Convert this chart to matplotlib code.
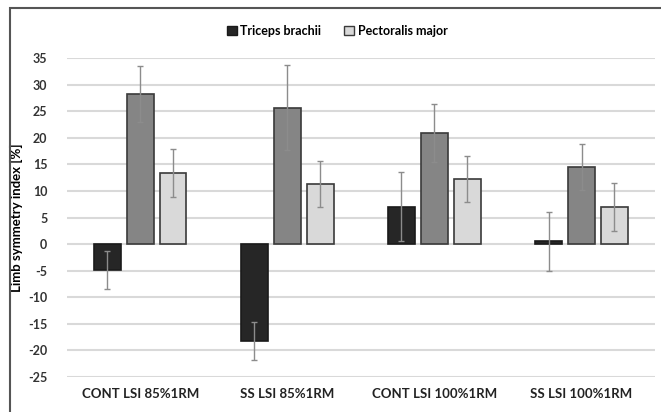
import matplotlib.pyplot as plt
import matplotlib.patches as mpatches
import numpy as np

categories = ['CONT LSI 85%1RM', 'SS LSI 85%1RM', 'CONT LSI 100%1RM', 'SS LSI 100%1RM']
triceps = [-4.9, -18.2, 7.0, 0.5]
triceps_err = [3.6, 3.6, 6.5, 5.5]
middle = [28.3, 25.7, 20.9, 14.5]
middle_err = [5.3, 8.0, 5.4, 4.4]
pectoralis = [13.4, 11.3, 12.3, 7.0]
pectoralis_err = [4.5, 4.3, 4.3, 4.5]
yticks = list(range(-25, 40, 5))

plt.rcParams['font.family'] = ['Lato', 'DejaVu Sans']

fig = plt.figure(figsize=(6.61, 4.12), dpi=100)
ax = fig.add_axes([0.101, 0.085, 0.89, 0.774])

x = np.arange(len(categories))
w = 0.18
step = 0.224
err_kw = dict(ecolor='#8c8c8c', elinewidth=1.0, capsize=2.5, capthick=1.0)

ax.bar(x - step, triceps, w, yerr=triceps_err, color='#262626', edgecolor='#1a1a1a',
       linewidth=1.2, error_kw=err_kw, zorder=3)
ax.bar(x, middle, w, yerr=middle_err, color='#858585', edgecolor='#3a3a3a',
       linewidth=1.2, error_kw=err_kw, zorder=3)
ax.bar(x + step, pectoralis, w, yerr=pectoralis_err, color='#d9d9d9', edgecolor='#3a3a3a',
       linewidth=1.2, error_kw=err_kw, zorder=3)

ax.set_xlim(-0.5, len(categories) - 0.5)
ax.set_ylim(-25, 35)
ax.set_yticks(yticks)
ax.set_yticklabels([str(t) for t in yticks], fontsize=9, color='#333333', fontweight='bold')
ax.set_xticks(x)
ax.set_xticklabels(categories, fontsize=9.5, fontweight='bold', color='#222222')
ax.tick_params(axis='both', length=0)
ax.tick_params(axis='x', pad=8)
ax.tick_params(axis='y', pad=14)
ax.grid(axis='y', color='#d9d9d9', linewidth=1.5, zorder=0)
for s in ax.spines.values():
    s.set_visible(False)

ax.set_ylabel('Limb symmetry index [%]', fontsize=9.5, fontweight='bold')
ax.yaxis.set_label_coords(-0.075, 0.5)

handles = [mpatches.Patch(facecolor='#262626', edgecolor='#1a1a1a', label='Triceps brachii'),
           mpatches.Patch(facecolor='#d9d9d9', edgecolor='#3a3a3a', label='Pectoralis major')]
fig.legend(handles=handles, loc='center', bbox_to_anchor=(0.51, 0.925), ncol=2, frameon=False,
           prop={'size': 9, 'weight': 'bold'}, handlelength=0.8, handleheight=0.8,
           handletextpad=0.3, columnspacing=1.8)

fig.patches.append(mpatches.Rectangle((0.015, -0.01), 0.99, 0.99, transform=fig.transFigure,
                                      fill=False, edgecolor='#555555', linewidth=1.5))

fig.savefig('out.png', dpi=100)
